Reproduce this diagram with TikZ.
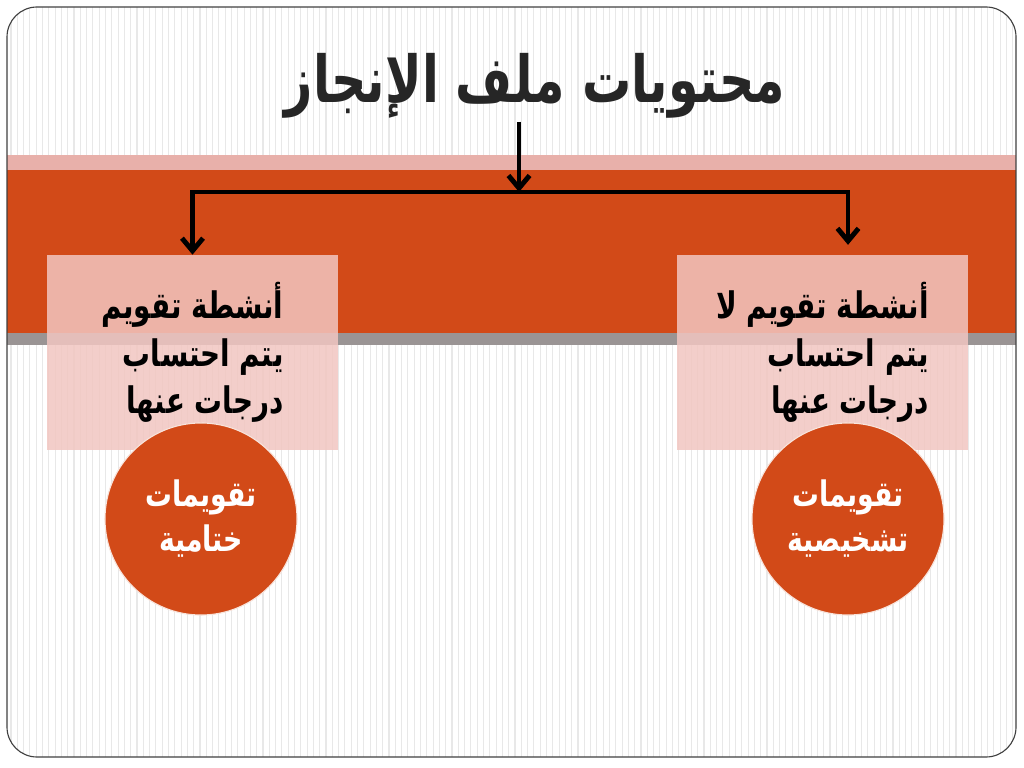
\documentclass[tikz,border=0pt]{standalone}
\usepackage{fontspec}
\newfontfamily\arabicfont[Script=Arabic,FakeStretch=0.76]{DejaVu Sans}
\TeXXeTstate=1
\usetikzlibrary{arrows.meta, calc}
\definecolor{bandred}{HTML}{D24A18}
\definecolor{bandpink}{HTML}{E8B0AA}
\definecolor{bandgray}{HTML}{9A9494}
\definecolor{boxpink}{HTML}{F2C6C1}
\definecolor{stripe}{HTML}{E8E8E8}
\tikzset{infobox/.style={fill=boxpink,fill opacity=0.85,text opacity=1,minimum width=7.275cm,minimum height=4.875cm,
           align=right,font=\arabicfont\bfseries\fontsize{26}{34}\selectfont},
         roundnode/.style={circle,fill=bandred,draw=white!85!bandred,line width=0.8pt,minimum size=4.8cm,
           text=white,align=center,font=\arabicfont\bfseries\fontsize{25}{32}\selectfont},
         link/.style={line width=3.5pt,-{Straight Barb[length=9pt,width=15pt]}}}

\begin{document}
\begin{tikzpicture}[x=0.025cm,y=-0.025cm]
        \useasboundingbox (0,0) rectangle (1024,768);
        % background
        \begin{scope}
            \clip[rounded corners=0.75cm](7,7) rectangle (1016,757);
            \fill[white](7,7) rectangle (1016,757);
            \foreach \x in {11,17.3,...,1016}
                \draw[stripe,line width=0.8pt](\x,7)--(\x,757);
            \fill[bandpink](7,155) rectangle (1016,170);
            \fill[bandred](7,170) rectangle (1016,333);
            \fill[bandgray](7,333) rectangle (1016,345);
        \end{scope}
        \draw[black!75,line width=0.8pt,rounded corners=0.75cm](7,7) rectangle (1016,757);
        % nodes
        \node[font=\arabicfont\bfseries\fontsize{46}{50}\selectfont,text=black!85,inner sep=2pt](title)at(535,86){\beginR محتويات ملف الإنجاز\endR};
        \node[infobox](box1)at(192.5,352.5){\beginR أنشطة تقويم\endR\\ \beginR يتم احتساب\endR\\ \beginR درجات عنها\endR};
        \node[infobox](box2)at(822.5,352.5){\beginR أنشطة تقويم لا\endR\\ \beginR يتم احتساب\endR\\ \beginR درجات عنها\endR};
        \node[roundnode](c1)at(201,519){\beginR تقويمات\endR\\ \beginR ختامية\endR};
        \node[roundnode](c2)at(848,519){\beginR تقويمات\endR\\ \beginR تشخيصية\endR};
        \coordinate(j)at(519,192);
        % connectors
        \draw[link](title.south -| j)--(j);
        \draw[link](j)-|(box1.north);
        \draw[link,shorten >=7pt](j)-|(c2 |- box2.north);
    \end{tikzpicture}
\end{document}
